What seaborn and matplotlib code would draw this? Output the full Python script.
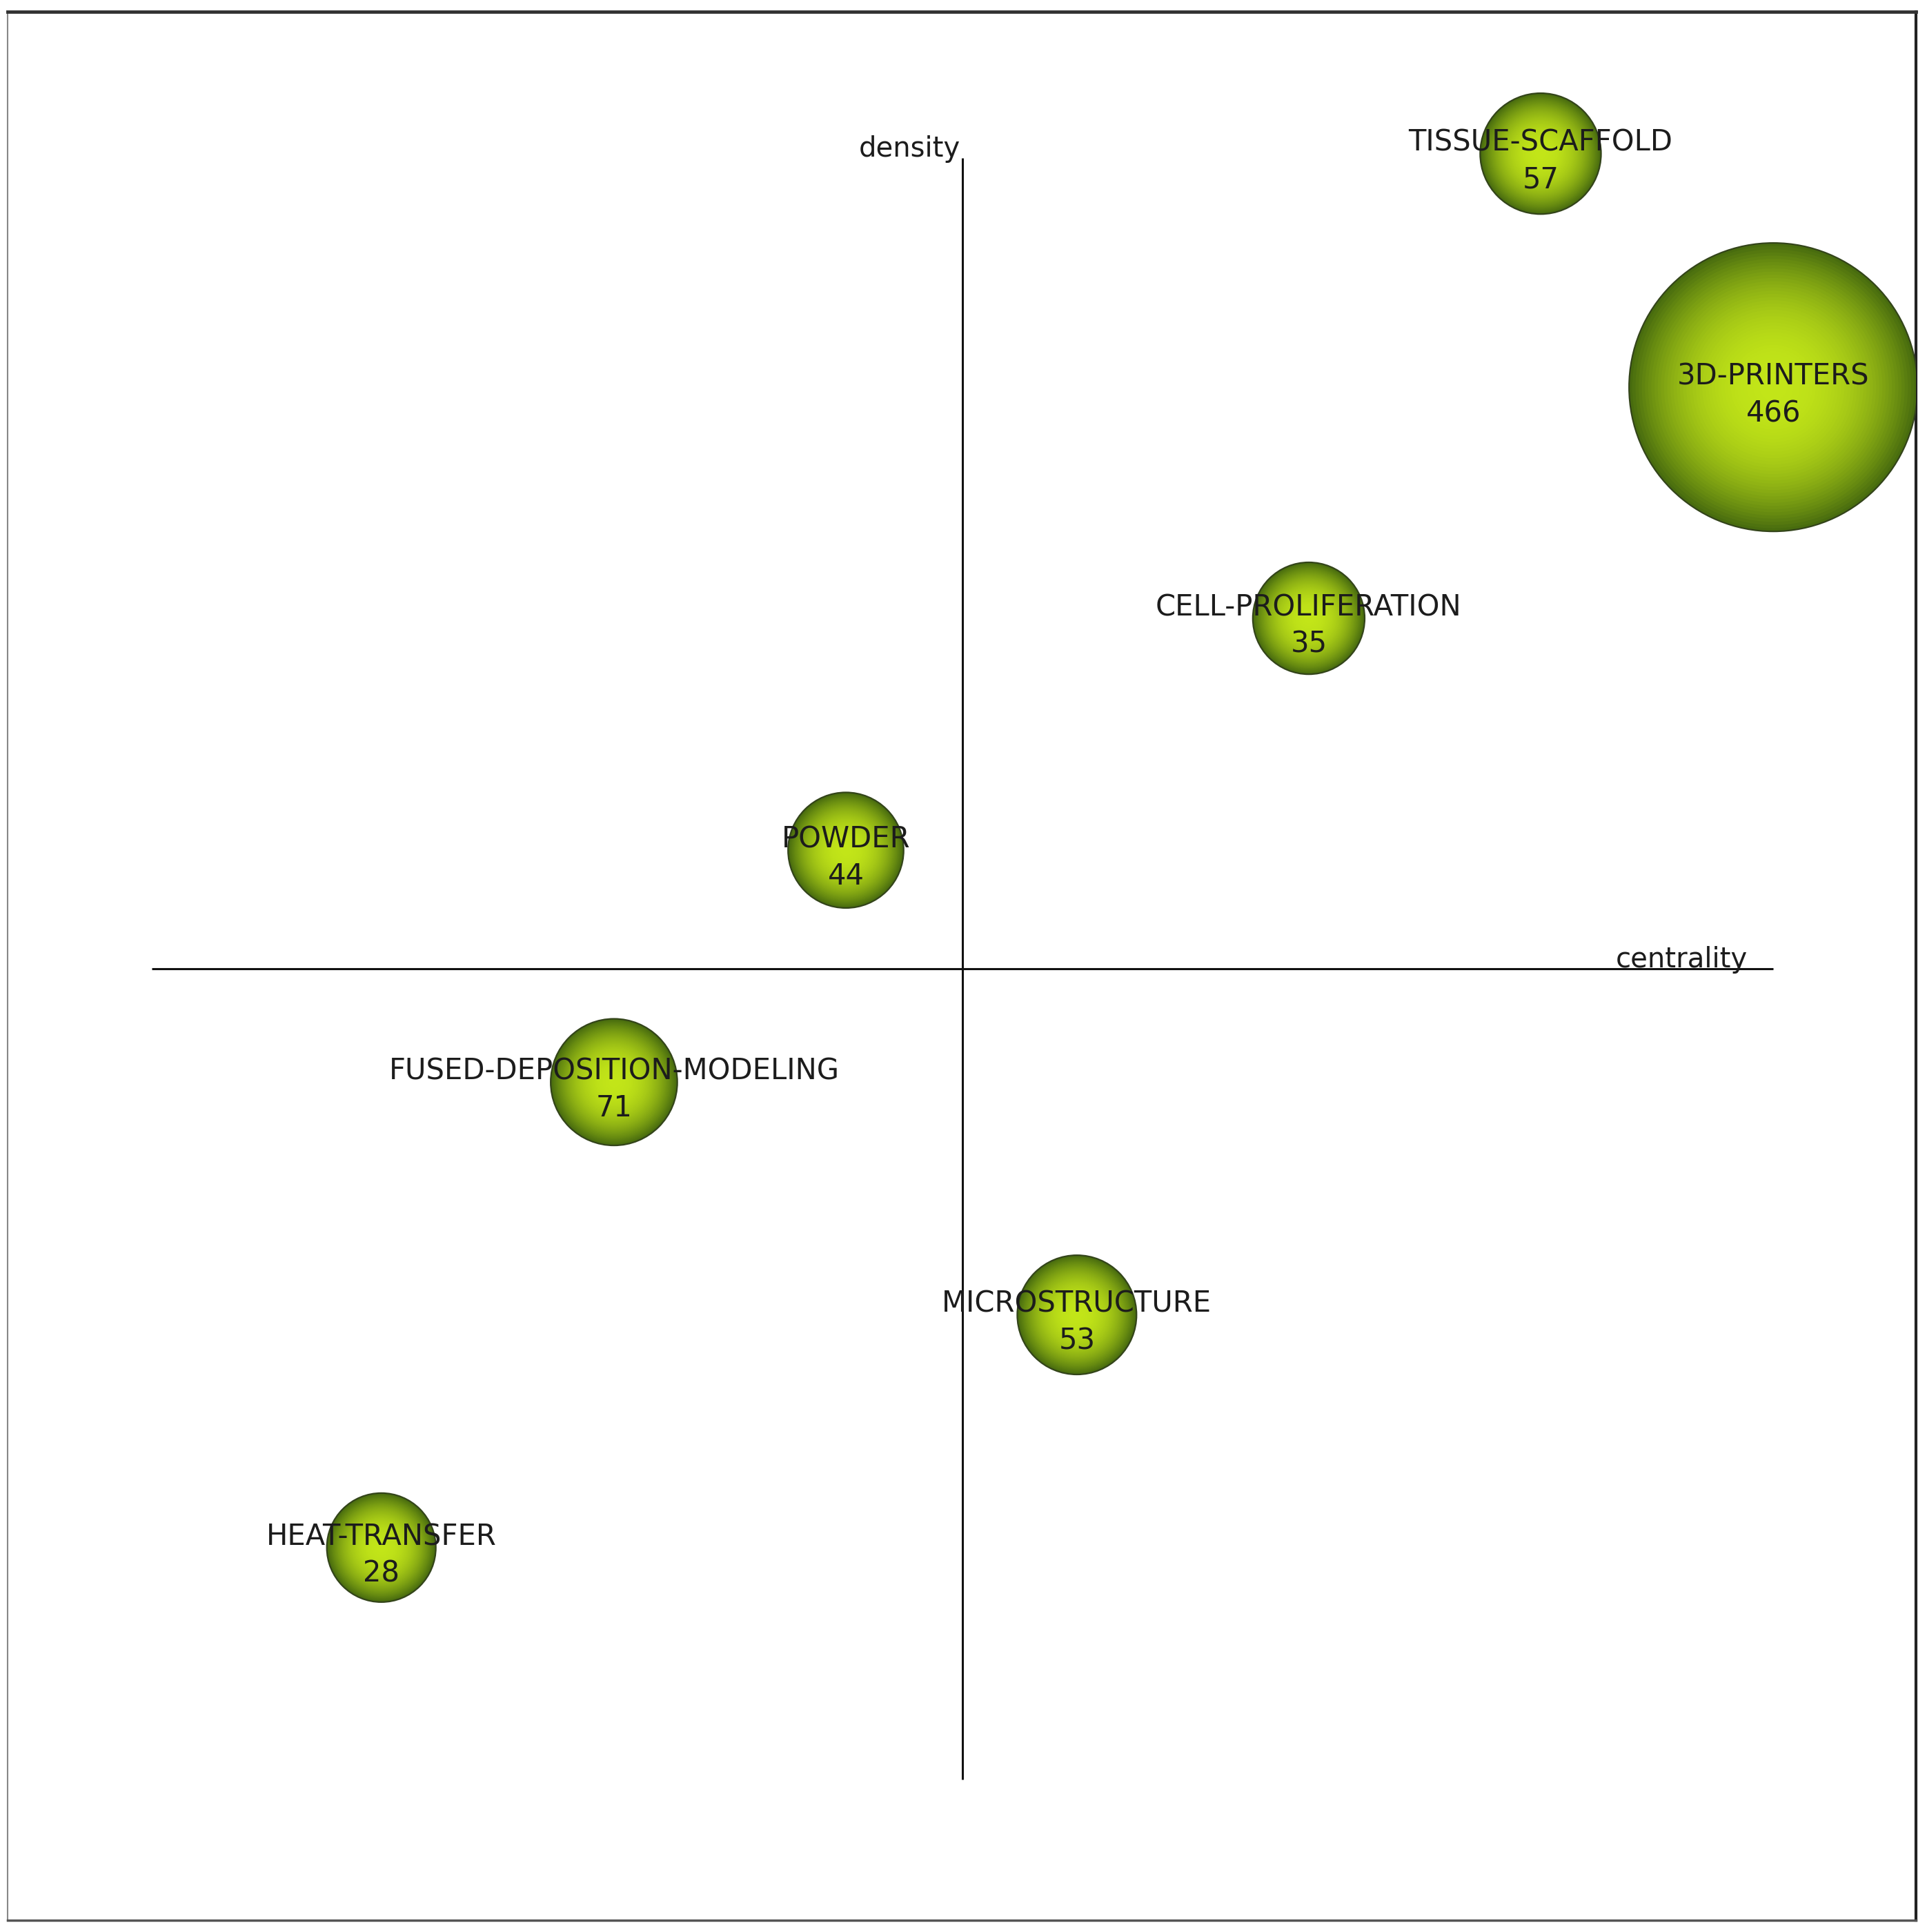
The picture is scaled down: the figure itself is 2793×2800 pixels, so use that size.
import matplotlib
matplotlib.use("Agg")
import matplotlib.pyplot as plt
import numpy as np
import pandas as pd
import seaborn as sns

# strategic diagram: themes placed by centrality (x) and density (y)
themes = ["TISSUE-SCAFFOLD", "3D-PRINTERS", "CELL-PROLIFERATION", "POWDER",
          "FUSED-DEPOSITION-MODELING", "MICROSTRUCTURE", "HEAT-TRANSFER"]
centrality = [0.713, 1.0, 0.427, -0.144, -0.430, 0.141, -0.717]
density = [1.005, 0.717, 0.432, 0.146, -0.140, -0.427, -0.714]
documents = [57, 466, 35, 44, 71, 53, 28]

df = pd.DataFrame({"theme": themes, "centrality": centrality,
                   "density": density, "documents": documents})

W, H, DPI = 2793, 2800, 100
PX2PT = 72 / DPI
R_MIN, R_MAX = 79, 209  # bubble radius range in pixels
CENTER_RGB = np.array([194, 229, 24]) / 255
EDGE_RGB = np.array([72, 108, 14]) / 255

# bubble radius grows linearly with number of documents
docs = df["documents"].to_numpy(float)
radius_px = R_MIN + (docs - docs.min()) / (docs.max() - docs.min()) * (R_MAX - R_MIN)
area_pt = (2 * radius_px * PX2PT) ** 2

sns.set_style("white")
plt.rcParams["font.family"] = ["DejaVu Sans"]

fig = plt.figure(figsize=(W / DPI, H / DPI), dpi=DPI)
ax = fig.add_axes([11 / W, 17 / H, 2766 / W, 2766 / H])

# fake radial gradient: stacked discs from the rim inwards
n_layers = 45
for i, t in enumerate(np.linspace(1.0, 0.03, n_layers)):
    mix = t ** 2.4
    col = CENTER_RGB * (1 - mix) + EDGE_RGB * mix
    sns.scatterplot(data=df, x="centrality", y="density", s=area_pt * t ** 2,
                    color=col, linewidth=1.6 if i == 0 else 0,
                    edgecolor="#33441a", legend=False, ax=ax, zorder=3)

for _, row in df.iterrows():
    ax.annotate(f"{row['theme']}\n{row['documents']}",
                (row["centrality"], row["density"]),
                xytext=(0, -8), textcoords="offset points",
                ha="center", va="center", fontsize=30, linespacing=1.35,
                color="#1c1c1c", zorder=5)

# quadrant axes
axis_extent = 1.0
ax.hlines(0, -axis_extent, axis_extent, color="#111111", lw=2.2, zorder=2)
ax.vlines(0, -axis_extent, axis_extent, color="#111111", lw=2.2, zorder=2)
ax.annotate("density", (0, axis_extent), xytext=(-2, 1), textcoords="offset points",
            ha="right", va="baseline", fontsize=29, color="#1c1c1c")
ax.annotate("centrality", (axis_extent, 0), xytext=(-27, 1), textcoords="offset points",
            ha="right", va="baseline", fontsize=29, color="#1c1c1c")

ax.set_xlim(-1.178, 1.176)
ax.set_ylim(-1.1736, 1.180)
ax.set_xticks([])
ax.set_yticks([])
ax.set_xlabel("")
ax.set_ylabel("")

for side, c, lw in [("top", "#333333", 3.5), ("right", "#222222", 3),
                    ("bottom", "#555555", 2.5), ("left", "#888888", 1.5)]:
    ax.spines[side].set_visible(True)
    ax.spines[side].set_color(c)
    ax.spines[side].set_linewidth(lw)

fig.savefig("out.png", dpi=DPI)
plt.close(fig)
